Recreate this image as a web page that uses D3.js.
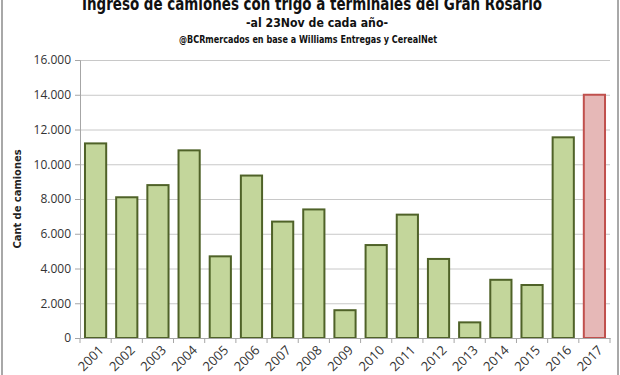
<!DOCTYPE html>
<html>
<head>
<meta charset="utf-8">
<script src="https://cdn.jsdelivr.net/npm/d3@7"></script>
<style>
  body { margin: 0; background: #fff; }
  svg { display: block; }
  .grid line { stroke: #c8c8c8; }
  .grid path { display: none; }
  .axis text { font-family: "Open Sans", "Liberation Sans", sans-serif; fill: #333; }
</style>
</head>
<body>
<script>
// datos
const years = ["2001", "2002", "2003", "2004", "2005", "2006", "2007", "2008", "2009",
  "2010", "2011", "2012", "2013", "2014", "2015", "2016", "2017"];
const camiones = [11200, 8100, 8800, 10800, 4700, 9350, 6700, 7400, 1600,
  5350, 7100, 4550, 900, 3350, 3050, 11550, 14000];
const yTicks = [0, 2000, 4000, 6000, 8000, 10000, 12000, 14000, 16000];

const W = 620, H = 375;
const margin = { top: 60, right: 10, bottom: 37, left: 80 },
  width = W - margin.left - margin.right,
  height = H - margin.top - margin.bottom;

const svg = d3.select("body").append("svg")
  .attr("width", W)
  .attr("height", H);

// borde
svg.append("rect")
  .attr("x", 2).attr("y", -2)
  .attr("width", W - 4).attr("height", H + 4)
  .attr("fill", "none")
  .attr("stroke", "#8c8c8c")
  .attr("stroke-width", 1.5);

const g = svg.append("g")
  .attr("transform", "translate(" + margin.left + "," + margin.top + ")");

const x = d3.scaleBand().domain(years).range([0, width]).paddingInner(0.32).paddingOuter(0.16);
const y = d3.scaleLinear().domain([0, 16000]).range([height, 0]);

const fmt = v => d3.format(",")(v).replace(/,/g, ".");

// grilla
g.append("g")
  .attr("class", "grid")
  .call(d3.axisLeft(y).tickValues(yTicks.slice(1)).tickSize(-width).tickFormat(""));

// eje Y
const yAxis = g.append("g")
  .attr("class", "axis")
  .call(d3.axisLeft(y).tickValues(yTicks).tickFormat(fmt).tickSize(5).tickPadding(4));
yAxis.select(".domain").attr("stroke", "#a6a6a6");
yAxis.selectAll(".tick line").attr("stroke", "#a6a6a6");
yAxis.selectAll("text").style("font-size", "12px");

// barras
g.selectAll(".bar")
  .data(years)
  .enter().append("rect")
  .attr("x", d => x(d))
  .attr("y", (d, i) => y(camiones[i]))
  .attr("width", x.bandwidth())
  .attr("height", (d, i) => height - y(camiones[i]))
  .attr("fill", d => d === "2017" ? "#e6b8b7" : "#c3d69b")
  .attr("stroke", d => d === "2017" ? "#c0504d" : "#4f6228")
  .attr("stroke-width", 2);

// eje X
const step = x.step();
const xAxis = g.append("g")
  .attr("class", "axis")
  .attr("transform", "translate(0," + height + ")")
  .call(d3.axisBottom(x).tickSize(0).tickPadding(0));
xAxis.select(".domain").attr("stroke", "#a6a6a6");
xAxis.selectAll(".tick").each(function () {
  d3.select(this).append("line")
    .attr("x1", -step / 2).attr("x2", -step / 2)
    .attr("y1", 0).attr("y2", 5)
    .attr("stroke", "#a6a6a6");
});
g.append("line")
  .attr("x1", width).attr("x2", width)
  .attr("y1", height).attr("y2", height + 5)
  .attr("stroke", "#a6a6a6");
xAxis.selectAll("text")
  .style("font-size", "13px")
  .style("text-anchor", "end")
  .attr("dy", 0)
  .attr("transform", "translate(9,13) rotate(-45)");

// título eje Y
svg.append("text")
  .attr("transform", "translate(21," + (margin.top + height / 2) + ") rotate(-90)")
  .attr("text-anchor", "middle")
  .style("font-family", "'DejaVu Sans Condensed', 'Open Sans', sans-serif")
  .style("font-weight", "bold")
  .style("font-size", "11px")
  .style("fill", "#222")
  .text("Cant de camiones");

// títulos
const narrow = "'DejaVu Sans Condensed', 'Liberation Sans', sans-serif";
svg.append("text")
  .attr("x", 312).attr("y", 10)
  .attr("text-anchor", "middle")
  .attr("textLength", 460)
  .attr("lengthAdjust", "spacingAndGlyphs")
  .style("font-family", narrow)
  .style("font-weight", "bold")
  .style("font-size", "18px")
  .style("fill", "#111")
  .text("Ingreso de camiones con trigo a terminales del Gran Rosario");
svg.append("text")
  .attr("x", 317).attr("y", 27)
  .attr("text-anchor", "middle")
  .attr("textLength", 142)
  .attr("lengthAdjust", "spacingAndGlyphs")
  .style("font-family", narrow)
  .style("font-weight", "bold")
  .style("font-size", "13px")
  .style("fill", "#111")
  .text("-al 23Nov de cada año-");
svg.append("text")
  .attr("x", 308).attr("y", 43)
  .attr("text-anchor", "middle")
  .attr("textLength", 258)
  .attr("lengthAdjust", "spacingAndGlyphs")
  .style("font-family", narrow)
  .style("font-weight", "bold")
  .style("font-size", "10px")
  .style("fill", "#111")
  .text("@BCRmercados en base a Williams Entregas y CerealNet");
</script>
</body>
</html>
